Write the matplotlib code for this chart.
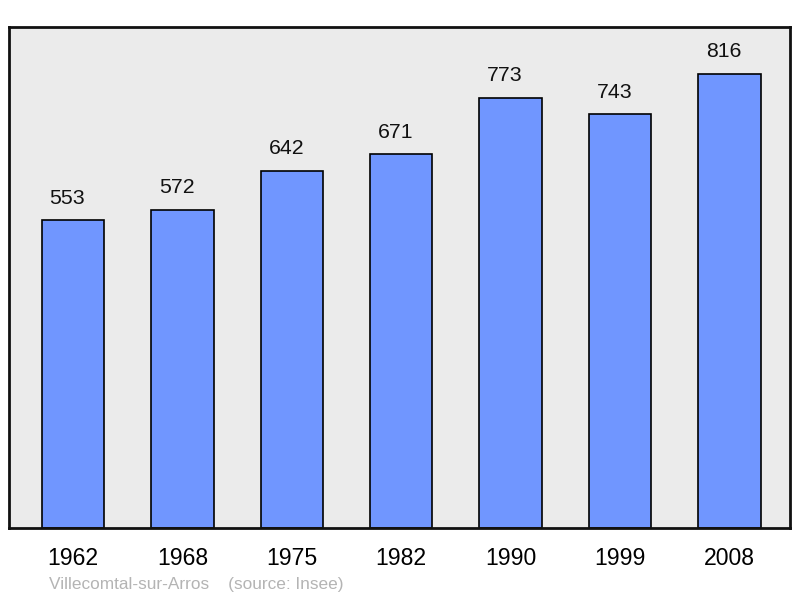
import matplotlib.pyplot as plt

plt.rcParams['font.family'] = ['Liberation Sans', 'DejaVu Sans']

years = ['1962', '1968', '1975', '1982', '1990', '1999', '2008']
population = [553, 572, 642, 671, 773, 743, 816]

fig = plt.figure(figsize=(8, 5.98), dpi=100)
ax = fig.add_axes([9/800, 70/598, 781/800, 501/598])
ax.set_facecolor('#ebebeb')

x = list(range(len(years)))
ax.bar(x, population, width=0.57, color='#7096ff', edgecolor='black', linewidth=1.2, zorder=2)

# value labels sit a bit left of the bar centre in the original
for xi, v in zip(x, population):
    ax.annotate(str(v), (xi, v), xytext=(-4, 9), textcoords='offset points',
                ha='center', va='bottom', fontsize=15.3, color='#111111')

ax.set_xlim(-0.585, 6.554)
ax.set_ylim(0, 900)
ax.set_xticks(x)
ax.set_xticklabels(years, fontsize=16.6)
ax.tick_params(axis='x', length=0, pad=14)
ax.set_yticks([])
for s in ax.spines.values():
    s.set_linewidth(2)
    s.set_color('#111111')

fig.text(49/800, 1 - 584/598, 'Villecomtal-sur-Arros    (source: Insee)',
         fontsize=12.4, color='#b4b4b4', va='center', ha='left')

plt.savefig('out.png', dpi=100)
